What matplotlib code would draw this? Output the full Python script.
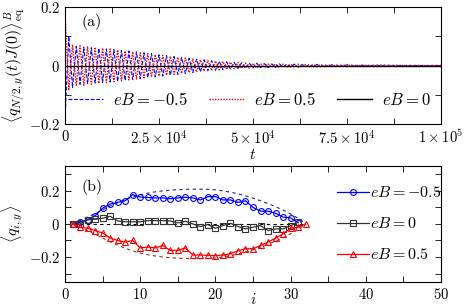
import numpy as np
import matplotlib
matplotlib.use('Agg')
import matplotlib.pyplot as plt
from matplotlib.ticker import MultipleLocator, FixedLocator

plt.rcParams['font.family'] = 'serif'
plt.rcParams['font.serif'] = ['cmr10']
plt.rcParams['mathtext.fontset'] = 'cm'
plt.rcParams['axes.formatter.use_mathtext'] = True
plt.rcParams['font.size'] = 10.5

# --- panel (a): correlation vs time (samples every 1000 in t) ---
corr_neg = [-0.18, 0.10, -0.075, 0.066, -0.064, 0.063, -0.062, 0.061, -0.06, 0.059,
            -0.058, 0.057, -0.056, 0.055, -0.054, 0.052, -0.051, 0.05, -0.048, 0.047,
            -0.045, 0.044, -0.042, 0.041, -0.039, 0.037, -0.036, 0.034, -0.033, 0.031,
            -0.03, 0.028, -0.027, 0.025, -0.024, 0.022, -0.021, 0.02, -0.018, 0.017,
            -0.016, 0.015, -0.014, 0.013, -0.012, 0.011, -0.01, 0.01, -0.009, 0.009,
            -0.008, 0.008, -0.007, 0.007, -0.007, 0.006, -0.006, 0.006, -0.005, 0.005,
            -0.005, 0.005, -0.005, 0.004, -0.004, 0.004, -0.004, 0.004, -0.004, 0.003,
            -0.003, 0.003, -0.003, 0.003, -0.003, 0.003, -0.003, 0.002, -0.002, 0.002,
            -0.002, 0.002, -0.002, 0.002, -0.002, 0.002, -0.002, 0.002, -0.002, 0.001,
            -0.001, 0.001, -0.001, 0.001, -0.001, 0.001, -0.001, 0.001, -0.001, 0.001,
            -0.001]
corr_pos = [0.18, -0.085, 0.072, -0.07, 0.068, -0.067, 0.066, -0.064, 0.063, -0.061,
            0.06, -0.058, 0.057, -0.055, 0.054, -0.052, 0.05, -0.049, 0.047, -0.046,
            0.044, -0.042, 0.041, -0.039, 0.038, -0.036, 0.035, -0.033, 0.032, -0.03,
            0.029, -0.027, 0.026, -0.024, 0.023, -0.022, 0.02, -0.019, 0.018, -0.017,
            0.016, -0.015, 0.014, -0.013, 0.012, -0.011, 0.011, -0.01, 0.009, -0.009,
            0.008, -0.008, 0.007, -0.007, 0.007, -0.006, 0.006, -0.006, 0.005, -0.005,
            0.005, -0.005, 0.005, -0.004, 0.004, -0.004, 0.004, -0.004, 0.004, -0.003,
            0.003, -0.003, 0.003, -0.003, 0.003, -0.003, 0.003, -0.002, 0.002, -0.002,
            0.002, -0.002, 0.002, -0.002, 0.002, -0.002, 0.002, -0.002, 0.002, -0.001,
            0.001, -0.001, 0.001, -0.001, 0.001, -0.001, 0.001, -0.001, 0.001, -0.001,
            0.001]
t_step = 1000
t_zero = [0, 1e5]
corr_zero = [0.0, 0.0]

# --- panel (b): <q_{i,y}> vs site i ---
sites = list(range(1, 33))
q_neg = [0.0, 0.01, 0.026, 0.05, 0.095, 0.12, 0.13, 0.14, 0.177, 0.162,
         0.16, 0.157, 0.157, 0.152, 0.157, 0.161, 0.157, 0.145, 0.165, 0.165,
         0.145, 0.145, 0.13, 0.14, 0.10, 0.077, 0.077, 0.065, 0.041, 0.036,
         0.007]
q_zero = [0.0, 0.0, 0.024, 0.03, 0.034, 0.046, 0.018, 0.013, 0.013, 0.013,
          0.02, 0.02, 0.02, 0.018, 0.006, 0.016, 0.0, -0.016, -0.004, -0.026,
          -0.01, 0.004, -0.016, -0.03, -0.02, -0.01, -0.04, -0.03, -0.03, -0.01,
          0.01]
q_pos = [0.0, -0.02, -0.026, -0.04, -0.055, -0.085, -0.1, -0.11, -0.1, -0.145,
         -0.14, -0.145, -0.13, -0.16, -0.16, -0.145, -0.188, -0.188, -0.19, -0.192,
         -0.188, -0.18, -0.162, -0.15, -0.15, -0.13, -0.11, -0.085, -0.06, -0.026,
         -0.02, 0.0]
env_up = [0.0, 0.02, 0.042, 0.062, 0.085, 0.108, 0.128, 0.147, 0.163, 0.176,
          0.186, 0.194, 0.2, 0.204, 0.207, 0.209, 0.21, 0.21, 0.209, 0.206,
          0.2, 0.192, 0.182, 0.17, 0.156, 0.14, 0.123, 0.104, 0.084, 0.06,
          0.034, 0.0]
env_dn = [-v for v in env_up]
env_zero = [0.0] * 32

fig = plt.figure(figsize=(4.69, 3.08), dpi=100)
ax1 = fig.add_axes([0.1386, 0.597, 0.8017, 0.38])
ax2 = fig.add_axes([0.1386, 0.085, 0.8017, 0.376])

t_neg = np.arange(len(corr_neg)) * t_step
t_pos = np.arange(len(corr_pos)) * t_step
ax1.plot(t_neg, corr_neg, color='blue', ls=(0, (3.5, 1.5)), lw=0.8, label=r'$eB=-0.5$')
ax1.plot(t_pos, corr_pos, color='red', ls=(0, (1, 1)), lw=1.0, label=r'$eB=0.5$')
ax1.plot(t_zero, corr_zero, color='black', lw=1.0, label=r'$eB=0$')
ax1.set_xlim(0, 1e5)
ax1.set_ylim(-0.2, 0.2)
ax1.xaxis.set_major_locator(FixedLocator([0, 2.5e4, 5e4, 7.5e4, 1e5]))
ax1.set_xticklabels([r'$0$', r'$2.5\times10^4$', r'$5\times10^4$', r'$7.5\times10^4$', r'$1\times10^5$'])
ax1.xaxis.set_minor_locator(MultipleLocator(12500))
ax1.yaxis.set_major_locator(FixedLocator([-0.2, 0, 0.2]))
ax1.set_yticklabels([r'$-0.2$', r'$0$', r'$0.2$'])
ax1.yaxis.set_minor_locator(MultipleLocator(0.1))
ax1.set_xlabel(r'$t$', fontsize=11)
ax1.xaxis.set_label_coords(0.5, -0.2)
ax1.set_ylabel(r'$\langle q_{N/2,y}(t)J(0)\rangle^B_{\rm eq}$', labelpad=1, fontsize=11.5)
ax1.text(0.045, 0.84, '(a)', transform=ax1.transAxes, fontsize=11.5)
ax1.legend(loc='lower center', bbox_to_anchor=(0.49, 0.04), ncol=3, frameon=False,
           fontsize=12, handlelength=2.1, columnspacing=1.3, handletextpad=0.6, borderpad=0.2)

ax2.plot(sites, env_up, color='#2020a0', ls=(0, (3, 3)), lw=0.8)
ax2.plot(sites, env_zero, color='black', ls=(0, (3, 3)), lw=0.8)
ax2.plot(sites, env_dn, color='#a02828', ls=(0, (3, 3)), lw=0.8)
ax2.plot(sites[:len(q_neg)], q_neg, color='blue', lw=0.9, marker='o', ms=4.2,
         mfc='none', mew=0.8, label=r'$eB{=}{-}0.5$')
ax2.plot(sites[:len(q_zero)], q_zero, color='0.2', lw=0.9, marker='s', ms=3.8,
         mfc='none', mew=0.8, label=r'$eB{=}0$')
ax2.plot(sites[:len(q_pos)], q_pos, color='red', lw=0.9, marker='^', ms=5,
         mfc='none', mew=0.8, label=r'$eB{=}0.5$')
ax2.set_xlim(0, 50)
ax2.set_ylim(-0.35, 0.35)
ax2.xaxis.set_major_locator(MultipleLocator(10))
ax2.xaxis.set_minor_locator(MultipleLocator(5))
ax2.yaxis.set_major_locator(FixedLocator([-0.2, 0, 0.2]))
ax2.set_yticklabels([r'$-0.2$', r'$0$', r'$0.2$'])
ax2.yaxis.set_minor_locator(FixedLocator([-0.3, -0.1, 0.1, 0.3]))
ax2.set_xlabel(r'$i$', fontsize=11)
ax2.xaxis.set_label_coords(0.5, -0.085)
ax2.set_ylabel(r'$\langle q_{i,y}\rangle$', labelpad=3, fontsize=11.5)
ax2.text(0.045, 0.78, '(b)', transform=ax2.transAxes, fontsize=11.5)
ax2.legend(loc='center left', bbox_to_anchor=(0.685, 0.5), frameon=False, fontsize=11.5,
           handlelength=2.0, handletextpad=0.05, labelspacing=1.0)

for ax in (ax1, ax2):
    ax.tick_params(which='both', direction='in', top=True, right=True)
    ax.tick_params(which='major', length=4, width=0.6)
    ax.tick_params(which='minor', length=4, width=0.6)
    for s in ax.spines.values():
        s.set_linewidth(0.8)

fig.savefig('out.png', dpi=100)
